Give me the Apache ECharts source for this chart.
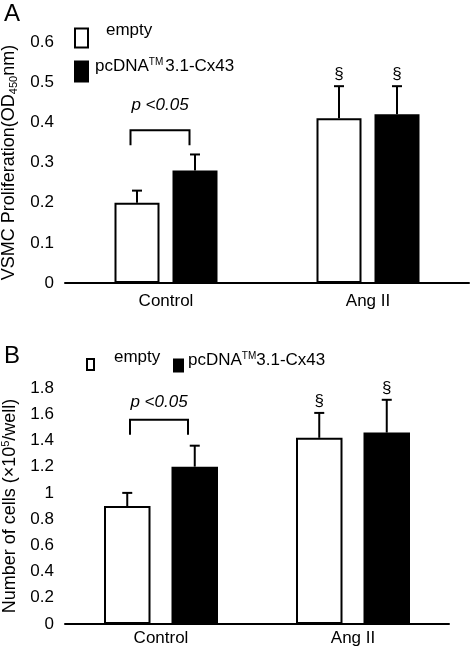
<!DOCTYPE html>
<html><head><meta charset="utf-8">
<script src="https://cdn.jsdelivr.net/npm/echarts@6/dist/echarts.min.js"></script>
<style>html,body{margin:0;padding:0;background:#fff}#c{width:473px;height:650px}</style>
</head><body><div id="c"></div>
<script>
// ---- data ----
const categories = ['Control', 'Ang II'];
const seriesNames = ['empty', 'pcDNA™3.1-Cx43'];
// Panel A: VSMC proliferation (OD450nm)
const emptyA = [0.20, 0.41];
const emptyErrA = [0.03, 0.08];
const cx43A = [0.28, 0.42];
const cx43ErrA = [0.04, 0.07];
const yTicksA = [0, 0.1, 0.2, 0.3, 0.4, 0.5, 0.6];
// Panel B: number of cells (x10^5/well)
const emptyB = [0.90, 1.42];
const emptyErrB = [0.10, 0.19];
const cx43B = [1.20, 1.46];
const cx43ErrB = [0.16, 0.25];
const yTicksB = [0, 0.2, 0.4, 0.6, 0.8, 1, 1.2, 1.4, 1.6, 1.8];
const sigMarks = ['', '§'];
const pText = 'p <0.05';
// annotation bracket levels (value units): [text, bracketTop, legBottom]
const bracketA = [0.443, 0.38, 0.343];
const bracketB = [1.695, 1.557, 1.443];

// ---- style ----
const FONT = '"Liberation Sans", Arial, sans-serif';
const BW_A = 45, GAP_A = 13;
const BW_B = 46.5, GAP_B = 21;

function errSeries(name, xi, yi, vals, errs, offset) {
  return {
    type: 'custom', name: name + ' err', xAxisIndex: xi, yAxisIndex: yi, z: 1,
    data: vals.map((v, i) => [i, v, errs[i]]),
    renderItem: function (params, api) {
      const base = api.coord([api.value(0), api.value(1)]);
      const top = api.coord([api.value(0), api.value(1) + api.value(2)]);
      const x = base[0] + offset;
      const ch = [
        { type: 'line', shape: { x1: x, y1: base[1], x2: x, y2: top[1] }, style: { stroke: '#000', lineWidth: 2 } },
        { type: 'line', shape: { x1: x - 5, y1: top[1], x2: x + 5, y2: top[1] }, style: { stroke: '#000', lineWidth: 2 } }
      ];
      const s = sigMarks[params.dataIndex];
      if (s) ch.push({ type: 'text', style: { text: s, x: x, y: top[1] - 3, align: 'center', verticalAlign: 'bottom', font: '17px ' + FONT, fill: '#000' } });
      return { type: 'group', children: ch };
    }
  };
}

function bracketSeries(xi, yi, lv, shift, half) {
  return {
    type: 'custom', xAxisIndex: xi, yAxisIndex: yi, silent: true,
    data: [[0, lv[0], lv[1], lv[2]]],
    renderItem: function (params, api) {
      const t = api.coord([0, api.value(1)]);
      const b = api.coord([0, api.value(2)]);
      const l = api.coord([0, api.value(3)]);
      const cx = t[0] + shift;
      return { type: 'group', children: [
        { type: 'polyline', shape: { points: [[cx - half, l[1]], [cx - half, b[1]], [cx + half, b[1]], [cx + half, l[1]]] }, style: { stroke: '#000', lineWidth: 2, fill: null } },
        { type: 'text', style: { text: pText, x: cx, y: t[1], align: 'center', verticalAlign: 'middle', font: 'italic 17px ' + FONT, fill: '#000' } }
      ] };
    }
  };
}

const axisCommon = {
  axisLine: { lineStyle: { color: '#000', width: 2 } },
  axisTick: { inside: true, length: 5, lineStyle: { color: '#000', width: 2 } },
  splitLine: { show: false }
};

function legendCfg(name, left, top, iw, ih, dx, dy) {
  const isCx = name === seriesNames[1];
  return {
    data: [name], left: left, top: top, padding: 0, itemWidth: iw, itemHeight: ih, icon: 'rect',
    itemStyle: { borderColor: '#000', borderWidth: 2 },
    formatter: isCx ? '{t|pcDNA}{sup|TM}{t|3.1-Cx43}' : '{t|empty}',
    textStyle: {
      color: '#000', fontFamily: FONT, fontSize: 17,
      rich: {
        t: { fontSize: 17, fontFamily: FONT, color: '#000', padding: [0, 0, dy, dx] },
        sup: { fontSize: 10, fontFamily: FONT, color: '#000', padding: [0, 0, dy + 9, 0] }
      }
    }
  };
}

const chart = echarts.init(document.getElementById('c'), null, { renderer: 'canvas' });
chart.setOption({
  animation: false,
  backgroundColor: '#fff',
  textStyle: { fontFamily: FONT, color: '#000' },
  grid: [
    { left: 65, right: 4, top: 42, bottom: 367, containLabel: false, outerBoundsMode: 'none' },
    { left: 65, right: 24, top: 388, bottom: 26, containLabel: false, outerBoundsMode: 'none' }
  ],
  xAxis: [
    Object.assign({ type: 'category', gridIndex: 0, data: categories,
      axisLabel: { color: '#000', fontSize: 17, margin: 10, fontFamily: FONT } }, axisCommon),
    Object.assign({ type: 'category', gridIndex: 1, data: categories,
      axisLabel: { color: '#000', fontSize: 17, margin: 6, fontFamily: FONT } }, axisCommon)
  ],
  yAxis: [
    Object.assign({ type: 'value', gridIndex: 0, min: 0, max: 0.6, interval: 0.1,
      axisLabel: { color: '#000', fontSize: 17, margin: 11, fontFamily: FONT, formatter: v => String(+v.toFixed(1)) },
      name: 'VSMC Proliferation(OD{sub|450}nm)', nameLocation: 'middle', nameGap: 41, nameRotate: 90,
      nameTextStyle: { fontSize: 18, color: '#000', fontFamily: FONT, rich: { sub: { fontSize: 11, padding: [10, 0, 0, 0], fontFamily: FONT, color: '#000' } } }
    }, axisCommon),
    Object.assign({ type: 'value', gridIndex: 1, min: 0, max: 1.8, interval: 0.2,
      axisLabel: { color: '#000', fontSize: 17, margin: 11, fontFamily: FONT, formatter: v => String(+v.toFixed(1)) },
      name: 'Number of cells (×10{sup|5}/well)', nameLocation: 'middle', nameGap: 41, nameRotate: 90,
      nameTextStyle: { fontSize: 18, color: '#000', fontFamily: FONT, rich: { sup: { fontSize: 11, padding: [0, 0, 9, 0], fontFamily: FONT, color: '#000' } } }
    }, axisCommon)
  ],
  legend: [
    legendCfg(seriesNames[0], 74, 22, 13, 19, 13, 15),
    legendCfg(seriesNames[1], 74, 57, 13, 20, 2, 10),
    legendCfg(seriesNames[0], 86, 349, 7, 11, 15, 14),
    legendCfg(seriesNames[1], 173, 351, 9, 12, 0, 10)
  ],
  graphic: [
    { type: 'text', left: 4, top: 2, style: { text: 'A', font: '24px ' + FONT, fill: '#000' } },
    { type: 'text', left: 4, top: 344, style: { text: 'B', font: '24px ' + FONT, fill: '#000' } }
  ],
  series: [
    { type: 'bar', name: seriesNames[0], xAxisIndex: 0, yAxisIndex: 0, data: emptyA, barWidth: BW_A, barGap: (GAP_A / BW_A * 100) + '%',
      itemStyle: { color: '#fff', borderColor: '#000', borderWidth: 2 }, z: 2 },
    { type: 'bar', name: seriesNames[1], xAxisIndex: 0, yAxisIndex: 0, data: cx43A, barWidth: BW_A, barGap: (GAP_A / BW_A * 100) + '%',
      itemStyle: { color: '#000', borderColor: '#000', borderWidth: 2 }, z: 2 },
    { type: 'bar', name: seriesNames[0], xAxisIndex: 1, yAxisIndex: 1, data: emptyB, barWidth: BW_B, barGap: (GAP_B / BW_B * 100) + '%',
      itemStyle: { color: '#fff', borderColor: '#000', borderWidth: 2 }, z: 2 },
    { type: 'bar', name: seriesNames[1], xAxisIndex: 1, yAxisIndex: 1, data: cx43B, barWidth: BW_B, barGap: (GAP_B / BW_B * 100) + '%',
      itemStyle: { color: '#000', borderColor: '#000', borderWidth: 2 }, z: 2 },
    errSeries('emptyA', 0, 0, emptyA, emptyErrA, -(BW_A + GAP_A) / 2),
    errSeries('cx43A', 0, 0, cx43A, cx43ErrA, (BW_A + GAP_A) / 2),
    errSeries('emptyB', 1, 1, emptyB, emptyErrB, -(BW_B + GAP_B) / 2),
    errSeries('cx43B', 1, 1, cx43B, cx43ErrB, (BW_B + GAP_B) / 2),
    bracketSeries(0, 0, bracketA, -6, 29.5),
    bracketSeries(1, 1, bracketB, -2, 29)
  ]
});
</script></body></html>
